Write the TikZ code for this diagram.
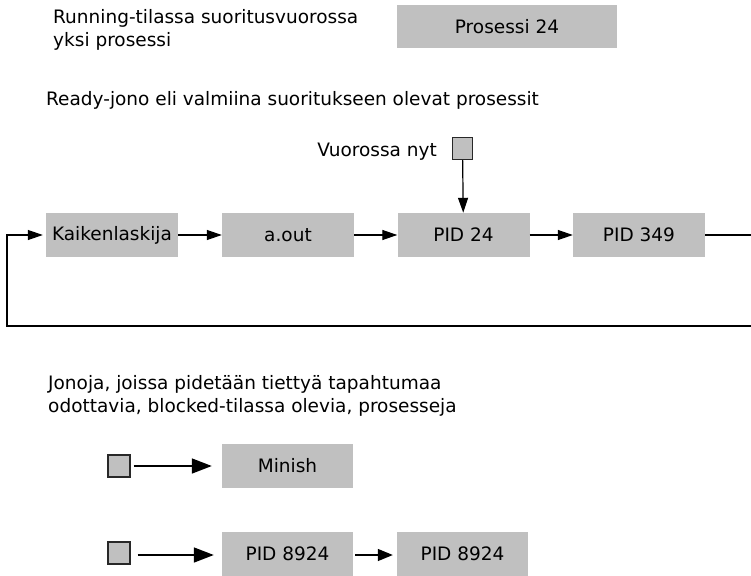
\documentclass[tikz,border=0pt]{standalone}
\usepackage{fontspec}
\setmainfont{DejaVu Sans}
\usetikzlibrary{arrows.meta}
\definecolor{boxgray}{RGB}{192,192,192}
\definecolor{edgegray}{RGB}{40,40,40}
\begin{document}
\begin{tikzpicture}[x=1pt,y=-1pt,
  font=\fontsize{18.5}{23}\selectfont,
  proc/.style={fill=boxgray, inner sep=0pt, minimum width=132pt, minimum height=44pt},
  handle/.style={fill=boxgray, draw=edgegray, line width=1.3pt, inner sep=0pt},
  label/.style={inner sep=0pt, anchor=west, align=left},
  link/.style={line width=1.2pt, -{Triangle[length=15pt,width=10pt]}},
  biglink/.style={line width=1.6pt, -{Triangle[length=20pt,width=15pt]}}]
\clip (0,0) rectangle (751,575);
\fill[white] (0,0) rectangle (751,575);

% running process
\node[label] (runtxt) at (53,29.5) {Running-tilassa suoritusvuorossa\\yksi prosessi};
\node[proc, minimum width=220pt, minimum height=43pt] (running) at (507,26.5) {Prosessi 24};

% ready queue
\node[label] (readytxt) at (46,100) {Ready-jono eli valmiina suoritukseen olevat prosessit};
\node[proc] (k) at (112,235) {Kaikenlaskija};
\node[proc] (a) at (288,235) {a.out};
\node[proc] (p24) at (463.5,235) {PID 24};
\node[proc] (p349) at (639,235) {PID 349};

\node[handle, minimum width=20pt, minimum height=22pt] (now) at (462.5,148.5) {};
\node[label, anchor=east] (nowtxt) at (437,152) {Vuorossa nyt};

\draw[link] (now) -- (p24);
\draw[link] (k) -- (a);
\draw[link] (a) -- (p24);
\draw[link] (p24) -- (p349);

% wrap-around of the ready queue
\coordinate (r1) at (770,235);
\coordinate (r2) at (770,326);
\coordinate (l1) at (7,326);
\coordinate (l2) at (7,235);
\draw[link, shorten >=3pt] (p349.east) -- (r1) -- (r2) -- (l1) -- (l2) -- (k.west);

% blocked queues
\node[label, align=left] (blktxt) at (48,396) {\fontsize{18.5}{23.5}\selectfont Jonoja, joissa pidetään tiettyä tapahtumaa\\odottavia, blocked-tilassa olevia, prosesseja};

\node[handle, minimum width=22pt, minimum height=22pt] (q1) at (119,466) {};
\node[proc, minimum width=131pt] (minish) at (287.5,466) {Minish};
\draw[biglink, shorten <=3pt, shorten >=10pt] (q1) -- (minish);

\node[handle, minimum width=22pt, minimum height=22pt] (q2) at (119,553) {};
\node[proc, minimum width=131pt] (b1) at (287.5,554) {PID 8924};
\node[proc, minimum width=131pt] (b2) at (462.5,554) {PID 8924};
\draw[biglink, shorten <=7pt, shorten >=8pt] (q2.east) ++(0,2) -- (b1.west |- 0,555);
\draw[line width=1.4pt, -{Triangle[length=15pt,width=12pt]}, shorten <=2pt, shorten >=4pt] (b1.east |- 0,555) -- (b2.west |- 0,555);
\end{tikzpicture}
\end{document}
